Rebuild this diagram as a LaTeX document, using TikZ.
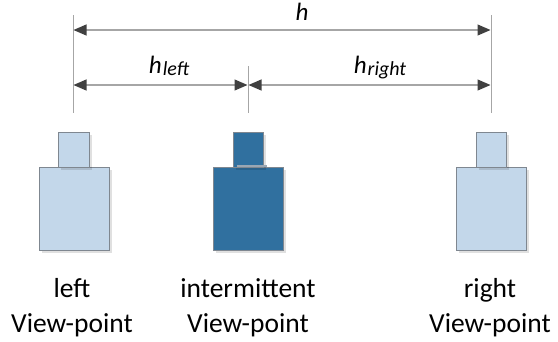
\documentclass[tikz,border=0pt]{standalone}
\usepackage{fontspec}
\setmainfont{Carlito}
\usetikzlibrary{arrows.meta,shadows}
\definecolor{lightcam}{HTML}{C3D7EA}
\definecolor{darkcam}{HTML}{30709F}
\definecolor{camedge}{HTML}{7F8790}
\definecolor{dimline}{HTML}{A6A6A6}
\definecolor{tipcol}{HTML}{404040}
\tikzset{
  cam/.style={draw=camedge, line width=0.9pt, inner sep=0pt, outer sep=0pt,
    drop shadow={shadow xshift=2.5pt, shadow yshift=-2.5pt, fill=black, opacity=0.12}},
  lightbox/.style={cam, fill=lightcam},
  darkbox/.style={cam, fill=darkcam},
  extline/.style={draw=dimline, line width=0.9pt},
  dimarrow/.style={draw=dimline, line width=1.1pt,
    {Triangle[length=13pt,width=11pt,color=tipcol]}-{Triangle[length=13pt,width=11pt,color=tipcol]},
    shorten <=0.5pt, shorten >=0.5pt},
  lbl/.style={font=\fontsize{27.5}{35}\selectfont, inner sep=0pt, anchor=base},
  dimlbl/.style={font=\fontsize{25}{28}\selectfont\itshape, inner sep=0pt, anchor=base}
}
\newcommand{\sbs}[1]{\kern1pt\raisebox{-0.1em}{\fontsize{20}{22}\selectfont #1}}
\begin{document}
\begin{tikzpicture}[x=1pt,y=-1pt]
\useasboundingbox (0,0) rectangle (558,341);
% extension lines
\coordinate (lt) at (73,15);  \coordinate (lb) at (73,113);
\coordinate (mt) at (248,66); \coordinate (mb) at (248,113);
\coordinate (rt) at (491,15); \coordinate (rb) at (491,113);
\draw[extline] (lt) -- (lb);
\draw[extline] (mt) -- (mb);
\draw[extline] (rt) -- (rb);
% dimension endpoints
\coordinate (hL) at (73,30);  \coordinate (hR) at (491,30);
\coordinate (lL) at (73,85);  \coordinate (lR) at (248,85);
\coordinate (rL) at (248,85); \coordinate (rR) at (491,85);
\draw[dimarrow] (hL) -- (hR);
\draw[dimarrow] (lL) -- (lR);
\draw[dimarrow] (rL) -- (rR);
\node[dimlbl] (hlab) at (302,20) {h};
\node[dimlbl] (hleftlab) at (169,73) {h\sbs{left}};
\node[dimlbl] (hrightlab) at (380,73) {h\sbs{right}};
% cameras
\node[lightbox, minimum width=70pt, minimum height=83pt] (lbody) at (74,208.5) {};
\node[lightbox, minimum width=31pt, minimum height=35pt, anchor=south] (lhead) at (lbody.north) {};
\node[darkbox, minimum width=70pt, minimum height=83pt] (mbody) at (248,208.5) {};
\node[darkbox, minimum width=30pt, minimum height=35pt, anchor=south] (mhead) at (mbody.north) {};
\draw[draw=camedge!60!lightcam, line width=2pt] ([xshift=4pt,yshift=1.5pt]mhead.south west) -- ([xshift=4pt,yshift=1.5pt]mhead.south east);
\node[lightbox, minimum width=70pt, minimum height=83pt] (rbody) at (491,208.5) {};
\node[lightbox, minimum width=30pt, minimum height=35pt, anchor=south] (rhead) at (rbody.north) {};
% labels
\node[lbl] (ltext1) at (72,297) {left};
\node[lbl] (ltext2) at (72,332) {View-point};
\node[lbl] (mtext1) at (248,297) {intermittent};
\node[lbl] (mtext2) at (248,332) {View-point};
\node[lbl] (rtext1) at (490,297) {right};
\node[lbl] (rtext2) at (490,332) {View-point};
\end{tikzpicture}
\end{document}
